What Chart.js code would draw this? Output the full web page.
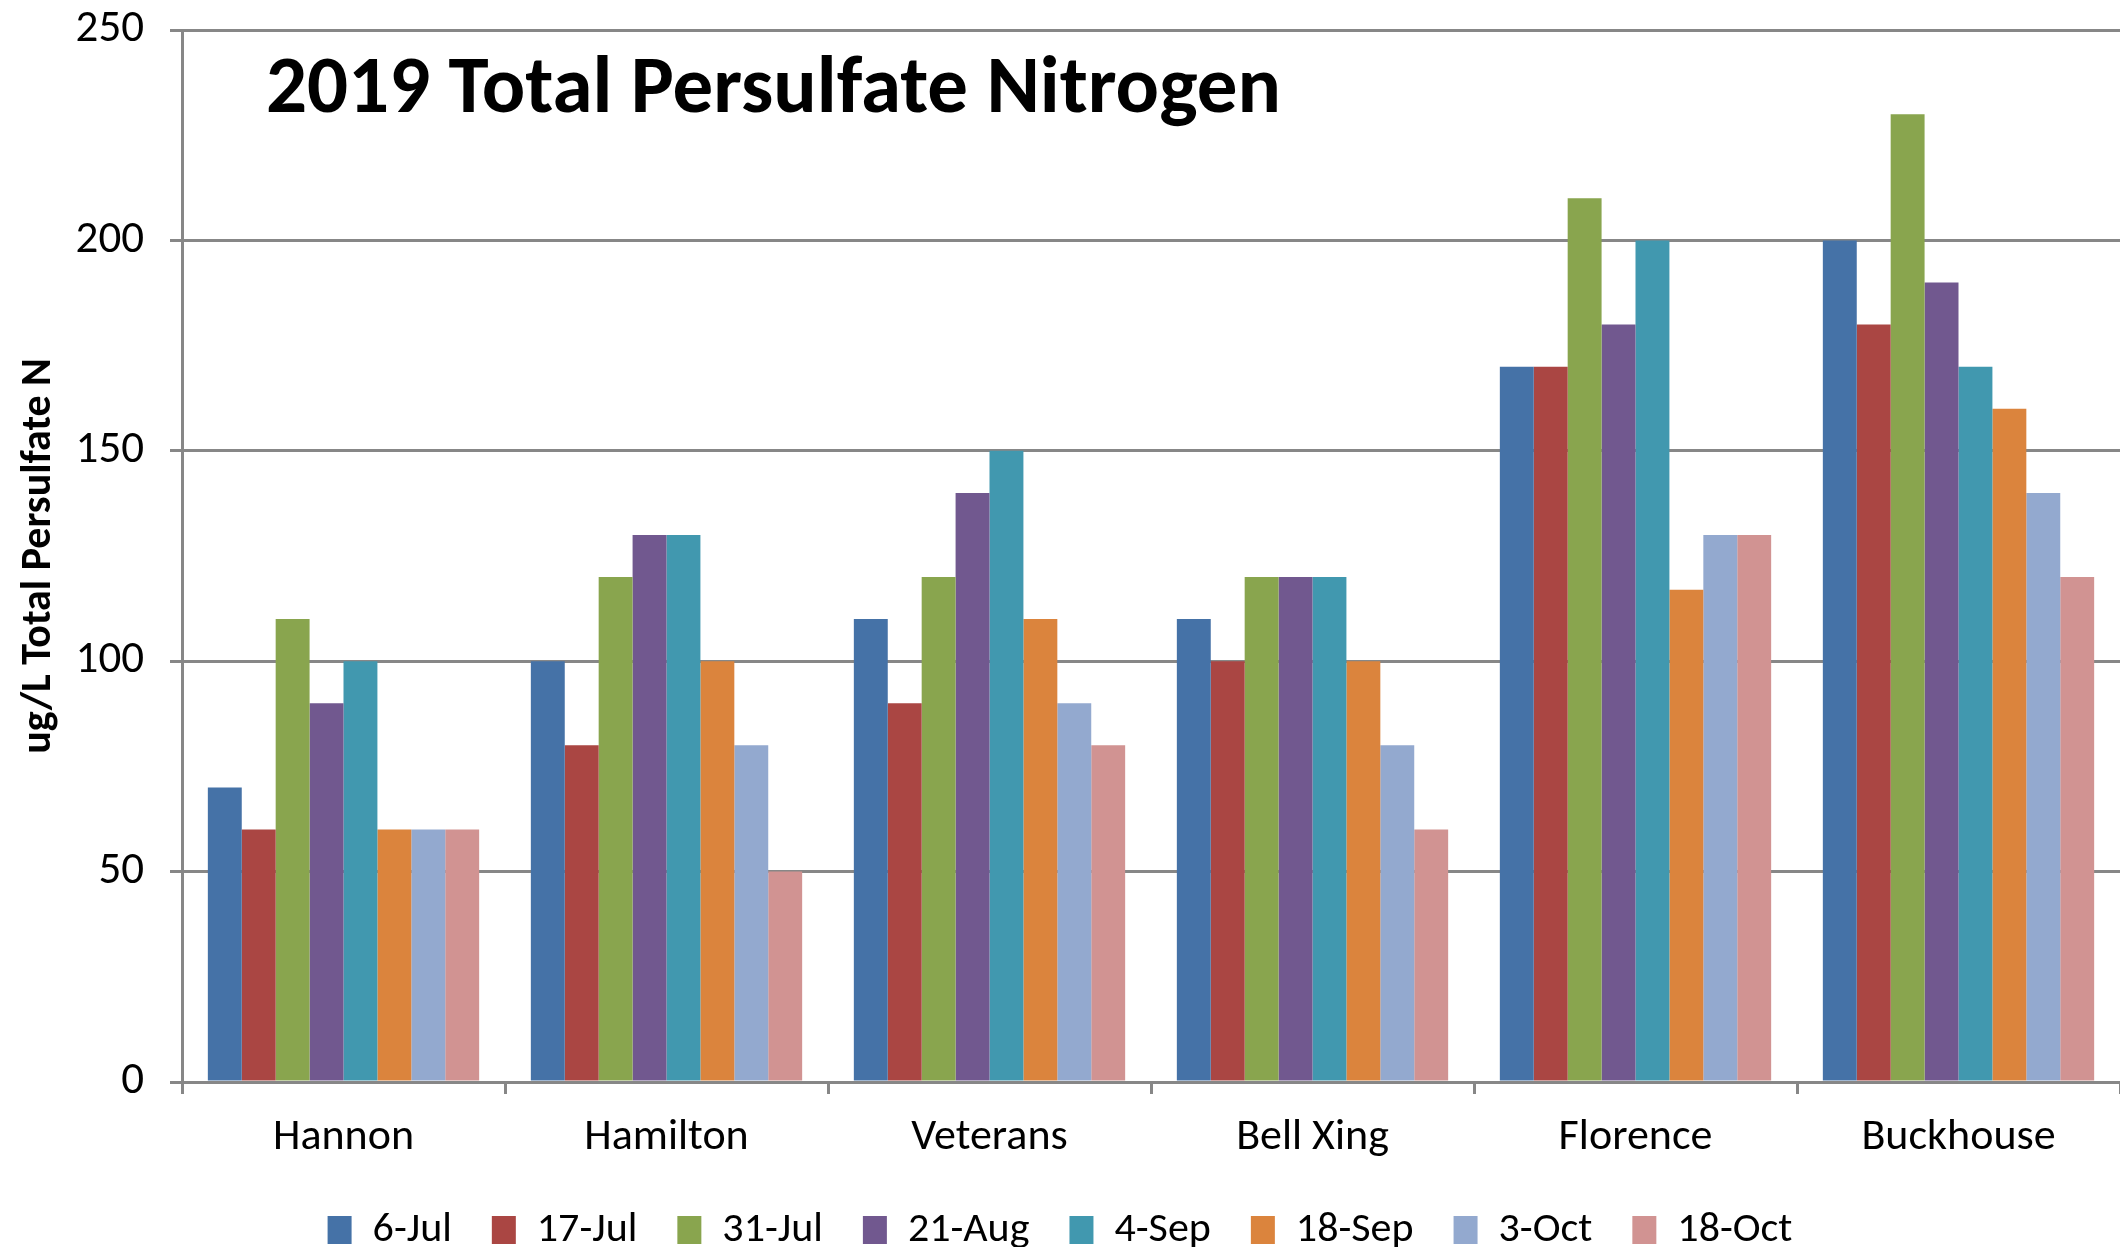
<!DOCTYPE html>
<html>
<head>
<meta charset="utf-8">
<script src="https://cdn.jsdelivr.net/npm/chart.js@4.4.1/dist/chart.umd.min.js"></script>
<style>
  html, body { margin: 0; padding: 0; background: #fff; }
  #wrap { width: 2120px; height: 1247px; }
</style>
</head>
<body>
<div id="wrap"><canvas id="myChart"></canvas></div>
<script>
const sites = ['Hannon', 'Hamilton', 'Veterans', 'Bell Xing', 'Florence', 'Buckhouse'];
const dates = ['6-Jul', '17-Jul', '31-Jul', '21-Aug', '4-Sep', '18-Sep', '3-Oct', '18-Oct'];
const jul6  = [70, 100, 110, 110, 170, 200];
const jul17 = [60, 80, 90, 100, 170, 180];
const jul31 = [110, 120, 120, 120, 210, 230];
const aug21 = [90, 130, 140, 120, 180, 190];
const sep4  = [100, 130, 150, 120, 200, 170];
const sep18 = [60, 100, 110, 100, 117, 160];
const oct3  = [60, 80, 90, 80, 130, 140];
const oct18 = [60, 50, 80, 60, 130, 120];
const yTicks = [0, 50, 100, 150, 200, 250];

const seriesValues = [jul6, jul17, jul31, aug21, sep4, sep18, oct3, oct18];
const colors = ['#4572A7', '#AA4643', '#89A54E', '#71588F', '#4198AF', '#DB843D', '#93A9CF', '#D19392'];
const gridGrey = '#878787';
const fontFamily = 'Carlito, Calibri, Lato, sans-serif';

// chart title sits inside the plot area, top left
const titlePlugin = {
  id: 'plotTitle',
  afterDraw(chart) {
    const { ctx, chartArea } = chart;
    ctx.save();
    ctx.font = 'bold 81px ' + fontFamily;
    ctx.fillStyle = '#000';
    ctx.textBaseline = 'middle';
    ctx.fillText('2019 Total Persulfate Nitrogen', chartArea.left + 84, chartArea.top + 62);
    ctx.restore();
  }
};

const ctx = document.getElementById('myChart');
new Chart(ctx, {
  type: 'bar',
  data: {
    labels: sites,
    datasets: dates.map((d, i) => ({
      label: d,
      data: seriesValues[i],
      backgroundColor: colors[i],
      borderWidth: 0,
      categoryPercentage: 0.84,
      barPercentage: 1.0
    }))
  },
  options: {
    animation: false,
    responsive: true,
    maintainAspectRatio: false,
    layout: {
      padding: 0
    },
    plugins: {
      legend: {
        position: 'bottom',
        maxHeight: 78,
        labels: {
          color: '#000',
          boxWidth: 24,
          boxHeight: 28,
          padding: 40,
          font: { family: fontFamily, size: 42 }
        }
      },
      tooltip: { enabled: false }
    },
    scales: {
      x: {
        afterFit(scale) { scale.height = 87; },
        grid: {
          offset: true,
          drawOnChartArea: false,
          color: gridGrey,
          lineWidth: 3,
          tickLength: 12
        },
        border: { color: gridGrey, width: 3 },
        ticks: {
          color: '#000',
          padding: 18,
          font: { family: fontFamily, size: 44 }
        }
      },
      y: {
        min: 0,
        max: 250,
        afterFit(scale) {
          scale.width = 182;
          scale.paddingTop = 30;
        },
        afterBuildTicks(scale) { scale.ticks = yTicks.map(v => ({ value: v })); },
        grid: {
          color: gridGrey,
          lineWidth: 3,
          tickLength: 12
        },
        border: { color: gridGrey, width: 3 },
        ticks: {
          color: '#000',
          padding: 26,
          font: { family: fontFamily, size: 45 }
        },
        title: {
          display: true,
          text: 'ug/L Total Persulfate N',
          color: '#000',
          padding: { top: 14, bottom: 0 },
          font: { family: fontFamily, size: 42, weight: 'bold' }
        }
      }
    }
  },
  plugins: [titlePlugin]
});
</script>
</body>
</html>
